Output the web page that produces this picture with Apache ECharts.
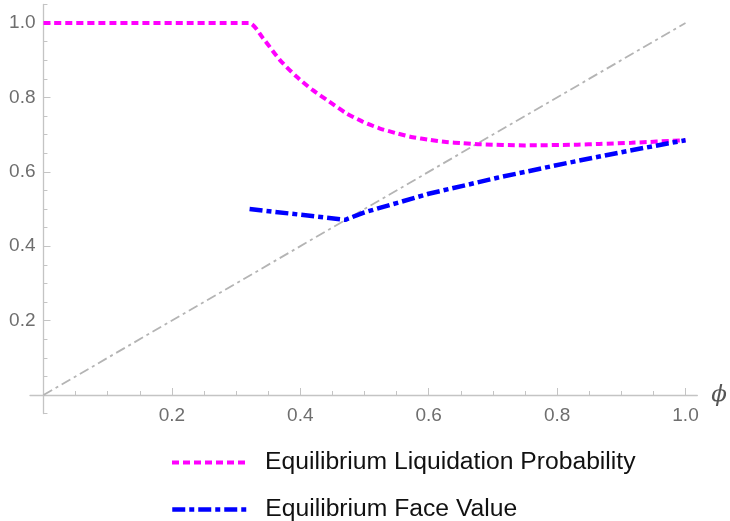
<!DOCTYPE html>
<html>
<head>
<meta charset="utf-8">
<script src="https://cdn.jsdelivr.net/npm/echarts@6/dist/echarts.min.js"></script>
<style>html,body{margin:0;padding:0;background:#fff}#c{width:730px;height:521px}</style>
</head>
<body>
<div id="c"></div>
<script>
// ---- data ----
var seriesNames = ['Equilibrium Liquidation Probability', 'Equilibrium Face Value'];
var phiLiq = [0, 0.32, 0.342, 0.368, 0.394, 0.419, 0.445, 0.471, 0.497, 0.523, 0.549, 0.575, 0.601, 0.627, 0.653, 0.68, 0.75, 0.832, 0.866, 0.916, 1.0];
var liq    = [1, 1, 0.959, 0.901, 0.856, 0.82, 0.789, 0.758, 0.735, 0.717, 0.704, 0.693, 0.686, 0.68, 0.677, 0.674, 0.671, 0.673, 0.675, 0.678, 0.685];
var phiFace = [0.321, 0.47, 0.5, 0.55, 0.6, 0.675, 0.707, 0.811, 0.866, 0.916, 1.0];
var face    = [0.50, 0.471, 0.491, 0.516, 0.541, 0.571, 0.584, 0.622, 0.641, 0.658, 0.685];
var diagX = [0, 1];
var diagY = [0, 1];
var xTicks = [0.2, 0.4, 0.6, 0.8, 1.0];
var yTicks = [0.2, 0.4, 0.6, 0.8, 1.0];

function pairs(xs, ys) { return xs.map(function (x, i) { return [x, ys[i]]; }); }

var axisGray = '#c4c4c4';
var labelGray = '#6e6e6e';
var font = 'Liberation Sans, Arial, sans-serif';
var pinkStyle = { color: '#ff00ff', width: 4, type: [7, 4] };
var blueStyle = { color: '#0000ff', width: 4.5, type: [13, 4, 5, 4] };

function fmt(list) {
  return function (v) {
    for (var i = 0; i < list.length; i++) if (Math.abs(v - list[i]) < 1e-6) return list[i].toFixed(1);
    return '';
  };
}

function legendFor(name, top, ls) {
  return {
    orient: 'vertical', left: 165, top: top,
    itemWidth: 77, itemHeight: 22,
    data: [name],
    itemStyle: { opacity: 0, borderWidth: 0 },
    lineStyle: { width: ls.width, type: ls.type, color: ls.color },
    textStyle: { color: '#111', fontSize: 24.7, fontFamily: font, padding: [0, 0, 0, 11] }
  };
}

var chart = echarts.init(document.getElementById('c'), null, { renderer: 'canvas' });
chart.setOption({
  animation: false,
  backgroundColor: '#fff',
  grid: [
    { left: 43.5, right: 44.5, top: 23, bottom: 126, containLabel: false },
    { left: 30, right: 31, top: 4.4, bottom: 107.4, containLabel: false }
  ],
  xAxis: [
    {
      type: 'value', gridIndex: 0, min: 0, max: 1, interval: 0.2,
      axisLine: { show: false },
      axisTick: { show: true, inside: true, length: 7, lineStyle: { color: axisGray, width: 1 } },
      minorTick: { show: true, splitNumber: 4, length: 4, lineStyle: { color: axisGray, width: 1 } },
      splitLine: { show: false },
      axisLabel: { formatter: fmt(xTicks), color: labelGray, fontSize: 19, fontFamily: font, margin: 11, showMinLabel: false }
    },
    {
      type: 'value', gridIndex: 1, min: -0.021, max: 1.021,
      axisLine: { show: true, onZero: true, lineStyle: { color: axisGray, width: 1.3 } },
      axisTick: { show: false }, axisLabel: { show: false }, splitLine: { show: false },
      name: 'ϕ', nameLocation: 'end', nameGap: 14,
      nameTextStyle: { color: '#555', fontSize: 23, fontStyle: 'italic', fontFamily: 'DejaVu Serif, serif', verticalAlign: 'middle' }
    }
  ],
  yAxis: [
    {
      type: 'value', gridIndex: 0, min: 0, max: 1, interval: 0.2,
      axisLine: { show: false },
      axisTick: { show: true, inside: true, length: 7, lineStyle: { color: axisGray, width: 1 } },
      splitLine: { show: false },
      axisLabel: { formatter: fmt(yTicks), color: labelGray, fontSize: 19, fontFamily: font, margin: 8, showMinLabel: false }
    },
    {
      type: 'value', gridIndex: 1, min: -0.05, max: 1.05, interval: 0.05,
      axisLine: { show: true, onZero: true, lineStyle: { color: axisGray, width: 1.3 } },
      axisTick: { show: true, inside: true, length: 4, lineStyle: { color: axisGray, width: 1 } },
      axisLabel: { show: false }, splitLine: { show: false }
    }
  ],
  legend: [
    legendFor(seriesNames[0], 445, pinkStyle),
    legendFor(seriesNames[1], 492, blueStyle)
  ],
  series: [
    {
      type: 'line', xAxisIndex: 0, yAxisIndex: 0, data: pairs(diagX, diagY),
      symbol: 'none', silent: true, clip: false,
      lineStyle: { color: '#b4b4b4', width: 1.8, type: [10, 4, 3, 4] }
    },
    {
      name: seriesNames[0], type: 'line', xAxisIndex: 0, yAxisIndex: 0, data: pairs(phiLiq, liq),
      symbol: 'none', smooth: 0.25, clip: false,
      itemStyle: { color: '#ff00ff' },
      lineStyle: pinkStyle
    },
    {
      name: seriesNames[1], type: 'line', xAxisIndex: 0, yAxisIndex: 0, data: pairs(phiFace, face),
      symbol: 'none', clip: false,
      itemStyle: { color: '#0000ff' },
      lineStyle: blueStyle
    }
  ]
});
</script>
</body>
</html>
